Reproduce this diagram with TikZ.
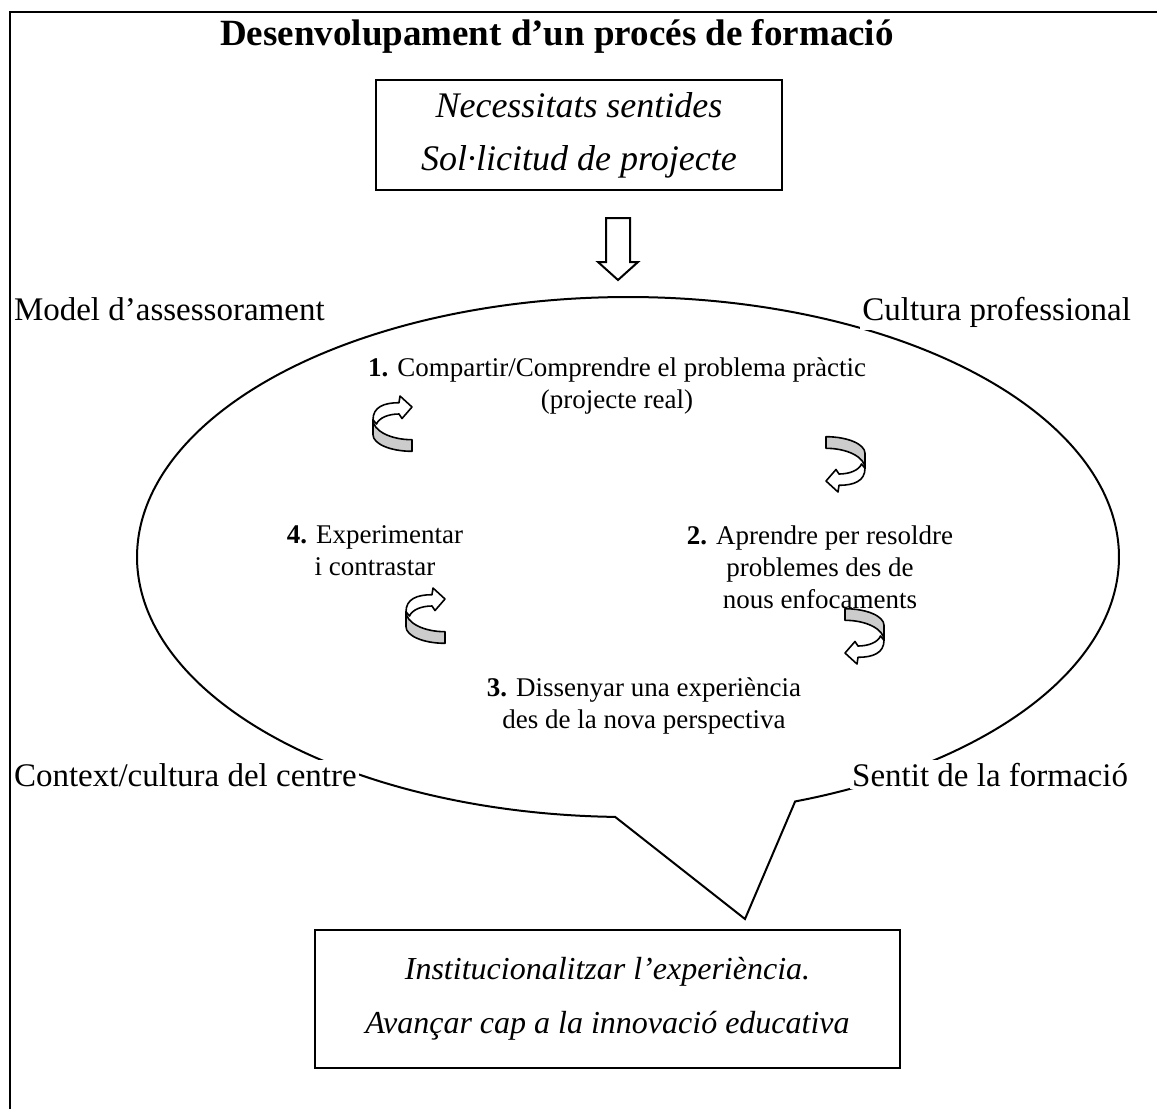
\documentclass[tikz,border=0pt]{standalone}
\usepackage{fontspec}
\setmainfont{Liberation Serif}
\definecolor{ribbongray}{RGB}{204,204,204}
\tikzset{
  % twisted curved arrow: grey underside below, white top band ending in a head
  ribbon/.pic={
    \filldraw[fill=white, line width=0.8pt, line join=round]
      (3,26.7) .. controls (3,14) and (14,9.7) .. (29,9.7) -- (30,3) -- (42,14)
      -- (32,25.5) -- (29,21) .. controls (18,21) and (9,25) .. (6.5,31) -- cycle;
    \filldraw[fill=ribbongray, line width=0.8pt, line join=round]
      (42,46.7) .. controls (20.5,46.7) and (3,37.7) .. (3,26.7) -- (3,41.7)
      .. controls (3,50.9) and (20.5,58.3) .. (42,58.3) -- cycle;
  }
}
\begin{document}
\begin{tikzpicture}[x=0.5pt,y=-0.5pt,
  every node/.style={inner sep=0pt, outer sep=0pt},
  label/.style={font=\fontsize{16.5}{19}\selectfont, fill=white,
                inner xsep=1pt, inner ysep=1.5pt},
  bigit/.style={font=\fontsize{18}{26.5}\selectfont\itshape, align=center},
  endit/.style={font=\fontsize{16}{27}\selectfont\itshape, align=center},
  small/.style={font=\fontsize{13.5}{16}\selectfont, align=center},
  framebox/.style={draw, line width=1pt},
  outline/.style={line width=1pt, line join=miter}]
\useasboundingbox (0,0) rectangle (1157,1109);

% title
\node[font=\fontsize{18.5}{21}\selectfont\bfseries, anchor=base] (title) at (557,45)
  {Desenvolupament d’un procés de formació};

% starting box
\node[framebox, bigit, minimum width=203pt, minimum height=55pt] (need) at (579,135)
  {Necessitats sentides\\Sol·licitud de projecte};

% block arrow into the cycle
\draw[outline, fill=white] (606,218) -- (630,218) -- (630,262) -- (638,262)
  -- (618,280) -- (598,262) -- (606,262) -- cycle;

% elliptical callout
\coordinate (tip) at (745,919);
\draw[line width=1pt, line join=miter]
  plot[domain=-70.1:268.5, samples=240, smooth, variable=\t]
    ({628+491*cos(\t)},{557-260*sin(\t)}) -- (tip) -- cycle;

% corner labels (opaque, laid over the callout outline)
\node[label, anchor=base west] (model) at (12,320) {Model d’assessorament};
\node[label, anchor=base east] (cultura) at (1133,320) {Cultura professional};
\node[label, anchor=base west] (context) at (12,786) {Context/cultura del centre};
\node[label, anchor=base east] (sentit) at (1130,786) {Sentit de la formació};

% the four steps
\node[small] (s1) at (617,386)
  {\textbf{1.} Compartir/Comprendre el problema pràctic\\(projecte real)};
\node[small] (s2) at (820,567)
  {\textbf{2.} Aprendre per resoldre\\problemes des de\\nous enfocaments};
\node[small] (s3) at (644,706)
  {\textbf{3.} Dissenyar una experiència\\des de la nova perspectiva};
\node[small] (s4) at (375,551)
  {\textbf{4.} Experimentar\\i contrastar};

% cycle arrows
\pic at (370,393) {ribbon};
\pic[rotate=180] at (868,495) {ribbon};
\pic at (403,585) {ribbon};
\pic[rotate=180] at (887,667) {ribbon};

% closing box
\node[framebox, endit, minimum width=292.5pt, minimum height=69pt] (inst) at (607.5,999)
  {Institucionalitzar l’experiència.\\Avançar cap a la innovació educativa};

% page frame (top and left rules)
\draw[line width=1pt] (10,1109) -- (10,12) -- (1157,12);
\end{tikzpicture}
\end{document}
